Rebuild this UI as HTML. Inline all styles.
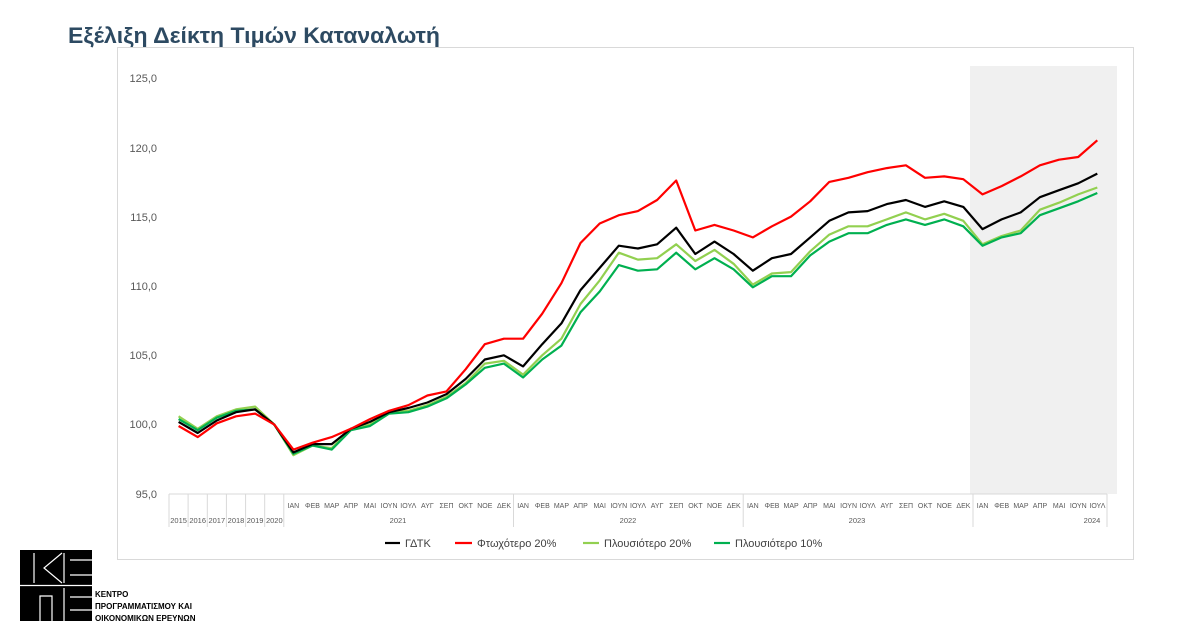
<!DOCTYPE html>
<html><head><meta charset="utf-8"><style>
body{margin:0;background:#fff;width:1200px;height:637px;overflow:hidden;font-family:"Liberation Sans",sans-serif}
</style></head><body>
<svg width="1200" height="637" xmlns="http://www.w3.org/2000/svg" font-family="Liberation Sans, sans-serif">
<text x="68" y="43" font-size="22.5" font-weight="bold" fill="#2d4a62" textLength="372" lengthAdjust="spacingAndGlyphs">Εξέλιξη Δείκτη Τιμών Καταναλωτή</text>
<rect x="117.5" y="47.5" width="1016" height="512" fill="#fff" stroke="#d9d9d9"/>
<rect x="970" y="66" width="147" height="428" fill="#f0f0f0"/>
<g font-size="11" fill="#595959" text-anchor="end">
<text x="157" y="82">125,0</text><text x="157" y="152">120,0</text><text x="157" y="221">115,0</text>
<text x="157" y="290">110,0</text><text x="157" y="359">105,0</text><text x="157" y="428">100,0</text><text x="157" y="498">95,0</text>
</g>
<line x1="169" y1="494" x2="1107" y2="494" stroke="#d9d9d9"/>
<g stroke="#d9d9d9">
<line x1="169" y1="494" x2="169" y2="527"/><line x1="188.1" y1="494" x2="188.1" y2="527"/><line x1="207.3" y1="494" x2="207.3" y2="527"/>
<line x1="226.4" y1="494" x2="226.4" y2="527"/><line x1="245.6" y1="494" x2="245.6" y2="527"/><line x1="264.7" y1="494" x2="264.7" y2="527"/>
<line x1="283.8" y1="494" x2="283.8" y2="527"/><line x1="513.5" y1="494" x2="513.5" y2="527"/><line x1="743.2" y1="494" x2="743.2" y2="527"/>
<line x1="973" y1="494" x2="973" y2="527"/><line x1="1107" y1="494" x2="1107" y2="527"/>
</g>
<g font-size="7.5" fill="#595959" text-anchor="middle">
<text x="178.6" y="523">2015</text><text x="197.7" y="523">2016</text><text x="216.8" y="523">2017</text><text x="236" y="523">2018</text><text x="255.1" y="523">2019</text><text x="274.3" y="523">2020</text>
<text x="398" y="523">2021</text><text x="628" y="523">2022</text><text x="857" y="523">2023</text><text x="1092" y="523">2024</text>
</g>
<g font-size="7" fill="#595959" text-anchor="middle">
<text x="293.4" y="508">ΙΑΝ</text><text x="312.5" y="508">ΦΕΒ</text><text x="331.7" y="508">ΜΑΡ</text><text x="350.8" y="508">ΑΠΡ</text><text x="370" y="508">ΜΑΙ</text><text x="389.1" y="508">ΙΟΥΝ</text><text x="408.3" y="508">ΙΟΥΛ</text><text x="427.4" y="508">ΑΥΓ</text><text x="446.5" y="508">ΣΕΠ</text><text x="465.7" y="508">ΟΚΤ</text><text x="484.8" y="508">ΝΟΕ</text><text x="504" y="508">ΔΕΚ</text>
<text x="523.1" y="508">ΙΑΝ</text><text x="542.3" y="508">ΦΕΒ</text><text x="561.4" y="508">ΜΑΡ</text><text x="580.6" y="508">ΑΠΡ</text><text x="599.7" y="508">ΜΑΙ</text><text x="618.8" y="508">ΙΟΥΝ</text><text x="638" y="508">ΙΟΥΛ</text><text x="657.1" y="508">ΑΥΓ</text><text x="676.3" y="508">ΣΕΠ</text><text x="695.4" y="508">ΟΚΤ</text><text x="714.6" y="508">ΝΟΕ</text><text x="733.7" y="508">ΔΕΚ</text>
<text x="752.8" y="508">ΙΑΝ</text><text x="772" y="508">ΦΕΒ</text><text x="791.1" y="508">ΜΑΡ</text><text x="810.3" y="508">ΑΠΡ</text><text x="829.4" y="508">ΜΑΙ</text><text x="848.6" y="508">ΙΟΥΝ</text><text x="867.7" y="508">ΙΟΥΛ</text><text x="886.8" y="508">ΑΥΓ</text><text x="906" y="508">ΣΕΠ</text><text x="925.1" y="508">ΟΚΤ</text><text x="944.3" y="508">ΝΟΕ</text><text x="963.4" y="508">ΔΕΚ</text>
<text x="982.6" y="508">ΙΑΝ</text><text x="1001.7" y="508">ΦΕΒ</text><text x="1020.9" y="508">ΜΑΡ</text><text x="1040" y="508">ΑΠΡ</text><text x="1059.1" y="508">ΜΑΙ</text><text x="1078.3" y="508">ΙΟΥΝ</text><text x="1097.4" y="508">ΙΟΥΛ</text>
</g>
<g id="series" fill="none" stroke-width="2.2" stroke-linejoin="round"></g>
<g font-size="11" fill="#404040">
<line x1="385" y1="543" x2="400" y2="543" stroke="#000" stroke-width="2.2"/><text x="405" y="547">ΓΔΤΚ</text>
<line x1="455" y1="543" x2="472" y2="543" stroke="#ff0000" stroke-width="2.2"/><text x="477" y="547">Φτωχότερο 20%</text>
<line x1="583" y1="543" x2="599" y2="543" stroke="#92d050" stroke-width="2.2"/><text x="604" y="547">Πλουσιότερο 20%</text>
<line x1="714" y1="543" x2="730" y2="543" stroke="#00b050" stroke-width="2.2"/><text x="735" y="547">Πλουσιότερο 10%</text>
</g>
<g>
<rect x="20" y="550" width="72" height="71" fill="#000"/>
<g stroke="#fff" stroke-width="1.2" fill="none">
<line x1="20" y1="585.5" x2="92" y2="585.5"/>
<line x1="34" y1="553" x2="34" y2="583"/>
<polyline points="62,553 44,568 62,583"/>
<line x1="64" y1="553" x2="64" y2="583"/>
<line x1="70" y1="560" x2="92" y2="560"/><line x1="70" y1="575" x2="92" y2="575"/>
<polyline points="40,621 40,596 52,596 52,621"/>
<line x1="64" y1="588" x2="64" y2="621"/>
<line x1="70" y1="597" x2="92" y2="597"/><line x1="70" y1="610" x2="92" y2="610"/>
</g>
<g font-size="8" font-weight="bold" fill="#000">
<text x="95" y="597">ΚΕΝΤΡΟ</text><text x="95" y="609">ΠΡΟΓΡΑΜΜΑΤΙΣΜΟΥ ΚΑΙ</text><text x="95" y="621">ΟΙΚΟΝΟΜΙΚΩΝ ΕΡΕΥΝΩΝ</text>
</g>
</g>
</svg>
<script>
var D={
"#000000":[100.2,99.4,100.3,100.9,101.1,100,98.0,98.6,98.6,99.7,100.2,100.9,101.2,101.6,102.2,103.3,104.7,105.0,104.2,105.8,107.3,109.7,111.3,112.9,112.7,113.0,114.2,112.3,113.2,112.3,111.1,112.0,112.3,113.5,114.7,115.3,115.4,115.9,116.2,115.7,116.1,115.7,114.1,114.8,115.3,116.4,116.9,117.4,118.1],
"#ff0000":[99.9,99.1,100.1,100.6,100.8,100,98.2,98.7,99.1,99.7,100.4,101.0,101.4,102.1,102.4,104.0,105.8,106.2,106.2,108.0,110.2,113.1,114.5,115.1,115.4,116.2,117.6,114.0,114.4,114.0,113.5,114.3,115.0,116.1,117.5,117.8,118.2,118.5,118.7,117.8,117.9,117.7,116.6,117.2,117.9,118.7,119.1,119.3,120.5],
"#92d050":[100.6,99.7,100.6,101.1,101.3,100,97.8,98.5,98.3,99.7,100.0,100.9,101.0,101.4,102.0,103.0,104.4,104.6,103.6,105.0,106.2,108.7,110.4,112.4,111.9,112.0,113.0,111.8,112.6,111.6,110.1,110.9,111.0,112.5,113.7,114.3,114.3,114.8,115.3,114.8,115.2,114.7,113.0,113.6,114.0,115.5,116.0,116.6,117.1],
"#00b050":[100.4,99.6,100.5,101.0,101.1,100,97.9,98.5,98.2,99.6,99.9,100.8,100.9,101.3,101.9,102.9,104.1,104.4,103.4,104.7,105.7,108.1,109.6,111.5,111.1,111.2,112.4,111.2,112.0,111.2,109.9,110.7,110.7,112.2,113.2,113.8,113.8,114.4,114.8,114.4,114.8,114.3,112.9,113.5,113.8,115.1,115.6,116.1,116.7]};
var g=document.getElementById('series'),o=["#92d050","#00b050","#000000","#ff0000"];
o.forEach(function(c){var p=D[c].map(function(v,i){return (178.57+19.14*i).toFixed(1)+","+(494-(v-95)*13.87).toFixed(1)}).join(" ");
var e=document.createElementNS("http://www.w3.org/2000/svg","polyline");e.setAttribute("points",p);e.setAttribute("stroke",c);g.appendChild(e);});
</script>
</body></html>
